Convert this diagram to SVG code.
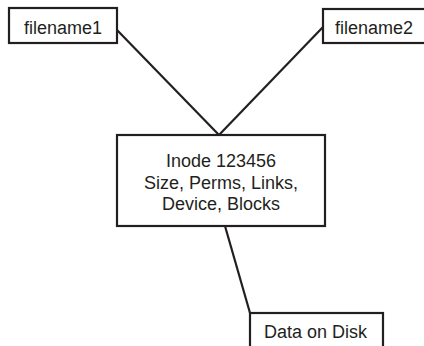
<svg xmlns="http://www.w3.org/2000/svg" width="424" height="346" viewBox="0 0 424 346">
<style>
.box{fill:#fff;stroke:#231f20;stroke-width:2.2}
.t{font-family:"Liberation Sans",Arial,sans-serif;font-size:18px;fill:#231f20}
.c{stroke:#231f20;stroke-width:2.2;fill:none}
</style>
<rect width="424" height="346" fill="#fff"/>
<g id="connectors">
<line class="c" x1="117" y1="30" x2="219" y2="135"/>
<line class="c" x1="323" y1="27" x2="219" y2="135"/>
<line class="c" x1="225" y1="226" x2="250" y2="313"/>
</g>
<g id="filename1">
<rect class="box" x="9" y="8" width="108" height="35"/>
<text class="t" x="63" y="34" text-anchor="middle">filename1</text>
</g>
<g id="filename2">
<rect class="box" x="323" y="9" width="106" height="34"/>
<text class="t" x="335" y="34">filename2</text>
</g>
<g id="inode">
<rect class="box" x="117" y="135" width="208" height="91"/>
<text class="t" x="221" y="167" text-anchor="middle">Inode 123456</text>
<text class="t" x="221" y="188.5" text-anchor="middle">Size, Perms, Links,</text>
<text class="t" x="221" y="210" text-anchor="middle">Device, Blocks</text>
</g>
<g id="data">
<rect class="box" x="250" y="313" width="133" height="40"/>
<text class="t" x="264" y="338">Data on Disk</text>
</g>
</svg>
